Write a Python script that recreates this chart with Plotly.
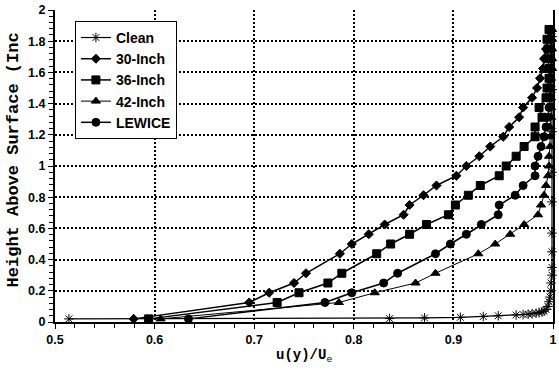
import plotly.graph_objects as go

# Heights above surface (inches) shared by iced profiles (no point at 0.375)
heights = [0.02, 0.125, 0.1875, 0.25, 0.3125, 0.4375, 0.5, 0.5625, 0.625, 0.6875,
           0.75, 0.8125, 0.875, 0.9375, 1.0, 1.0625, 1.125, 1.1875, 1.25, 1.3125,
           1.375, 1.4375, 1.5, 1.5625, 1.625, 1.6875, 1.75, 1.8125, 1.875]

u_30 = [0.579, 0.695, 0.715, 0.740, 0.752, 0.786, 0.798, 0.815, 0.831, 0.850,
        0.856, 0.870, 0.883, 0.903, 0.913, 0.926, 0.937, 0.950, 0.956, 0.966,
        0.970, 0.979, 0.984, 0.987, 0.990, 0.991, 0.993, 0.995, 0.997]
u_36 = [0.594, 0.723, 0.745, 0.774, 0.788, 0.823, 0.837, 0.856, 0.873, 0.895,
        0.902, 0.915, 0.927, 0.946, 0.953, 0.963, 0.971, 0.982, 0.982, 0.989,
        0.986, 0.993, 0.994, 0.996, 0.996, 0.995, 0.995, 0.994, 0.996]
u_42 = [0.606, 0.785, 0.821, 0.862, 0.882, 0.925, 0.942, 0.957, 0.971, 0.985,
        0.988, 0.991, 0.993, 0.995, 0.996, 0.996, 0.997, 0.997, 0.997, 0.998,
        0.998, 0.998, 0.998, 0.998, 0.999, 0.999, 0.999, 0.999, 0.999]
u_lew = [0.634, 0.771, 0.798, 0.830, 0.844, 0.882, 0.897, 0.913, 0.928, 0.945,
         0.946, 0.962, 0.970, 0.982, 0.982, 0.985, 0.988, 0.991, 0.993, 0.995,
         0.996, 0.997, 0.997, 0.997, 0.998, 0.998, 0.998, 0.998, 0.998]

clean_h = [0.02, 0.022, 0.026, 0.03, 0.035, 0.04, 0.045, 0.048, 0.05, 0.053,
           0.056, 0.06, 0.065, 0.07, 0.08, 0.1, 0.13, 0.16, 0.2, 0.25,
           0.3, 0.35, 0.45, 0.57, 0.77, 0.96, 1.22, 1.49, 1.83]
clean_u = [0.514, 0.836, 0.871, 0.907, 0.930, 0.945, 0.963, 0.970, 0.975, 0.979,
           0.983, 0.986, 0.989, 0.991, 0.993, 0.995, 0.996, 0.997, 0.998, 0.998,
           0.999, 0.999, 0.999, 0.999, 0.999, 0.999, 0.999, 0.999, 0.999]

x_ticks = [0.5, 0.6, 0.7, 0.8, 0.9, 1.0]
y_ticks = [0, 0.2, 0.4, 0.6, 0.8, 1.0, 1.2, 1.4, 1.6, 1.8, 2.0]

series = [
    ("Clean", clean_u, clean_h, "asterisk-open", 8, 1.2),
    ("30-Inch", u_30, heights, "diamond", 7, 1.5),
    ("36-Inch", u_36, heights, "square", 8, 1.5),
    ("42-Inch", u_42, heights, "triangle-up", 8, 1.0),
    ("LEWICE", u_lew, heights, "circle", 8, 1.5),
]

fig = go.Figure()
for name, xs, ys, sym, size, lw in series:
    fig.add_trace(go.Scatter(
        x=xs, y=ys, name=name, mode="lines+markers",
        line=dict(color="black", width=lw),
        marker=dict(symbol=sym, size=size, color="black",
                    line=dict(color="black", width=1)),
        cliponaxis=False,
    ))

tickfont = dict(family="Liberation Sans, Arial", size=12.5, color="black")
fig.update_layout(
    width=559, height=383,
    margin=dict(l=55, r=2, t=10, b=61),
    paper_bgcolor="white", plot_bgcolor="white",
    showlegend=True,
    legend=dict(
        x=0.04, y=0.965, xanchor="left", yanchor="top",
        bgcolor="white", bordercolor="black", borderwidth=1,
        font=dict(family="Liberation Sans, Arial", size=14, color="black", weight="bold"),
        itemwidth=30, tracegroupgap=0,
    ),
    annotations=[
        dict(text="Height Above Surface (Inc", xref="paper", yref="paper",
             x=-0.083, y=0.52, xanchor="center", yanchor="middle",
             textangle=-90, showarrow=False,
             font=dict(family="Liberation Mono, Courier New", size=17,
                       color="black", weight="bold")),
        dict(text="<b>u(y)/U</b><sub>e</sub>", xref="paper", yref="paper",
             x=0.5, y=-0.075, xanchor="center", yanchor="top",
             showarrow=False,
             font=dict(family="Liberation Mono, Courier New", size=14, color="black")),
    ],
)
fig.update_xaxes(
    range=[0.5, 1.0], tickvals=x_ticks, ticktext=[f"<b>{v:g}</b>" for v in x_ticks],
    showline=True, linecolor="black", linewidth=2,
    ticks="outside", ticklen=5, tickwidth=1, tickcolor="black",
    tickfont=tickfont,
    showgrid=True, gridcolor="black", gridwidth=1.5, griddash="2px,2px",
    zeroline=False,
    minor=dict(dtick=0.02, ticks="outside", ticklen=4, tickcolor="black", showgrid=False),
)
fig.update_yaxes(
    range=[0, 2.0], tickvals=y_ticks, ticktext=[f"<b>{v:g}</b>" for v in y_ticks],
    showline=True, linecolor="black", linewidth=2, mirror=True,
    ticks="outside", ticklen=5, tickwidth=1, tickcolor="black",
    tickfont=tickfont,
    showgrid=True, gridcolor="black", gridwidth=1.5, griddash="2px,2px",
    zeroline=False,
    minor=dict(dtick=0.04, ticks="outside", ticklen=4, tickcolor="black", showgrid=False),
)

fig.write_html("out.html")
